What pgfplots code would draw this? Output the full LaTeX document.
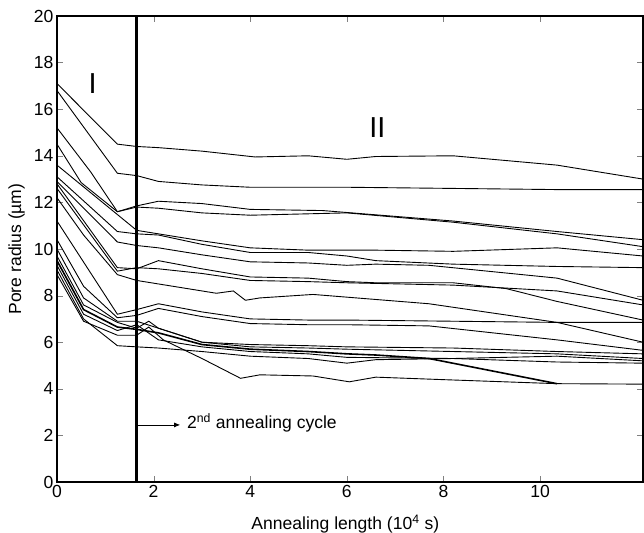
\documentclass[border=0pt]{standalone}
\usepackage{fontspec}
\setmainfont{Liberation Sans}
\usepackage{pgfplots}
\pgfplotsset{compat=1.18}
\usetikzlibrary{calc,arrows.meta}
\newcommand{\fs}{\fontsize{17.6}{20}\selectfont}
\begin{document}
\begin{tikzpicture}
\begin{axis}[
    scale only axis,
    width=586bp, height=466bp,
    xmin=0, xmax=12.13, ymin=0, ymax=20,
    xtick={0,2,...,10}, ytick={0,2,...,20},
    tick align=inside,
    major tick length=6bp,
    axis line style={line width=1.1bp},
    /pgf/number format/assume math mode=true,
    tick label style={font=\fs},
    label style={font=\fs},
    xlabel={Annealing length (10\textsuperscript{4} s)},
    ylabel={Pore radius (µm)},
    xlabel style={at={(axis description cs:0.492,-0.09)},anchor=center},
    ylabel style={at={(axis description cs:-0.069,0.5)},anchor=center},
    cycle list={{black,solid,mark=none}},
    every axis plot/.append style={line width=0.9bp},
]
% region I (first annealing) and region II
\addplot coordinates {(0,17.1)(1.25,14.5)(1.65,14.4)(2.1,14.35)(3,14.2)(4.1,13.95)(5.2,14.0)(6,13.85)(6.6,13.97)(8.2,14.0)(10.35,13.6)(12.13,13.0)};
\addplot coordinates {(0,16.8)(1.25,13.25)(1.65,13.15)(2.1,12.9)(3,12.75)(4,12.65)(6,12.65)(8.2,12.6)(10.35,12.55)(12.13,12.55)};
\addplot coordinates {(0,15.2)(0.7,13.3)(1.25,11.6)(1.65,11.85)(2.1,12.05)(3,11.95)(4,11.7)(5.5,11.65)(8.2,11.2)(10.35,10.75)(12.13,10.4)};
\addplot coordinates {(0,14.5)(0.5,12.85)(1.25,11.6)(1.65,11.8)(2.1,11.75)(3,11.55)(4,11.45)(6,11.55)(8.2,11.15)(10.35,10.65)(12.13,10.1)};
\addplot coordinates {(0,13.6)(1.65,10.8)(2.1,10.65)(3,10.35)(4,10.05)(5.2,9.95)(6,9.95)(6.6,9.95)(8.2,9.9)(10.35,10.05)(12.13,9.7)};
\addplot coordinates {(0,13.1)(1.25,10.75)(1.65,10.65)(2.1,10.6)(3,10.2)(4,9.85)(5.2,9.85)(6,9.7)(6.6,9.5)(8.2,9.35)(10.35,9.25)(12.13,9.2)};
\addplot coordinates {(0,12.9)(1.25,10.3)(1.65,10.15)(2.1,10.05)(3,9.75)(4,9.45)(5.2,9.4)(6,9.3)(6.6,9.35)(7.7,9.3)(10.35,8.75)(12.13,7.8)};
\addplot coordinates {(0,12.8)(1.25,9.2)(1.65,9.15)(2.1,9.5)(3,9.15)(4,8.8)(5.2,8.75)(6,8.6)(6.6,8.55)(8.2,8.55)(9.3,8.3)(10.35,7.75)(12.13,6.95)};
\addplot coordinates {(0,12.6)(1.25,9.05)(1.65,9.2)(2.1,9.15)(3,8.95)(4,8.65)(5.2,8.6)(6,8.55)(8.2,8.45)(10.35,8.2)(12.13,7.6)};
\addplot coordinates {(0,12.2)(0.55,10.6)(1.25,8.9)(1.65,8.65)(2.1,8.5)(3.3,8.1)(3.65,8.2)(3.9,7.8)(4.2,7.9)(5.3,8.05)(7.7,7.65)(10.35,6.85)(12.13,6.0)};
\addplot coordinates {(0,11.2)(1.25,7.2)(1.65,7.4)(2.1,7.65)(3,7.3)(4,7.0)(5.2,6.95)(6,6.95)(8.2,6.9)(10.35,6.85)(12.13,6.85)};
\addplot coordinates {(0,10.4)(0.55,8.4)(1.25,7.05)(1.65,7.15)(2.1,7.45)(3,7.1)(4,6.8)(5.2,6.75)(6,6.75)(7.7,6.7)(10.35,6.1)(12.13,5.65)};
\addplot coordinates {(0,10.0)(0.55,7.9)(1.25,6.9)(1.65,6.9)(2.1,6.6)(3,6.0)(4,5.9)(5.2,5.85)(6,5.8)(8.2,5.75)(10.35,5.6)(12.13,5.5)};
\addplot coordinates {(0,9.7)(0.55,7.6)(1.25,6.85)(1.65,6.6)(1.9,6.9)(2.1,6.6)(3,6.0)(4,5.8)(5.2,5.75)(6,5.7)(8.2,5.6)(10.35,5.5)(12.13,5.3)};
\addplot[line width=1.6bp] coordinates {(0,9.5)(0.55,7.4)(1.25,6.65)(1.65,6.55)(2.1,6.4)(3,5.9)(4,5.7)(5.2,5.6)(6,5.5)(6.6,5.45)(7.7,5.3)(10.35,4.22)};
\addplot coordinates {(0,9.3)(0.55,7.2)(1.25,6.5)(1.65,6.75)(2.1,6.1)(3,5.8)(4,5.6)(5.2,5.5)(6,5.35)(8.2,5.3)(10.35,5.15)(12.13,5.1)};
\addplot coordinates {(0,9.1)(0.55,7.0)(1.25,5.85)(1.65,5.8)(2.1,5.75)(3,5.6)(4,5.4)(5.2,5.3)(6,5.1)(6.6,5.25)(8.2,5.3)(10.35,5.4)(12.13,5.2)};
\addplot coordinates {(0,8.9)(0.55,6.9)(1.25,6.3)(1.65,6.3)(1.9,6.65)(2.2,6.1)(3,5.3)(3.8,4.45)(4.2,4.6)(5.3,4.55)(6.05,4.3)(6.6,4.5)(7.9,4.4)(10.35,4.22)(12.13,4.2)};
% start of the 2nd annealing cycle
\addplot[line width=2.8bp] coordinates {(1.65,0)(1.65,20)};
\draw[-{Latex[length=6bp,width=5bp]}, line width=0.8bp] (axis cs:1.65,2.45) -- (axis cs:2.55,2.45);
\node[anchor=west, font=\fs] at (axis cs:2.62,2.55) {2\textsuperscript{nd} annealing cycle};
\node[font=\fontsize{29}{32}\selectfont] at (axis cs:0.74,17.1) {I};
\node[font=\fontsize{29}{32}\selectfont] at (axis cs:6.63,15.2) {II};
\end{axis}
\pgfresetboundingbox
\path ($(current axis.south west)+(-57bp,-51bp)$) rectangle ($(current axis.north east)+(1bp,16bp)$);
\end{tikzpicture}
\end{document}
